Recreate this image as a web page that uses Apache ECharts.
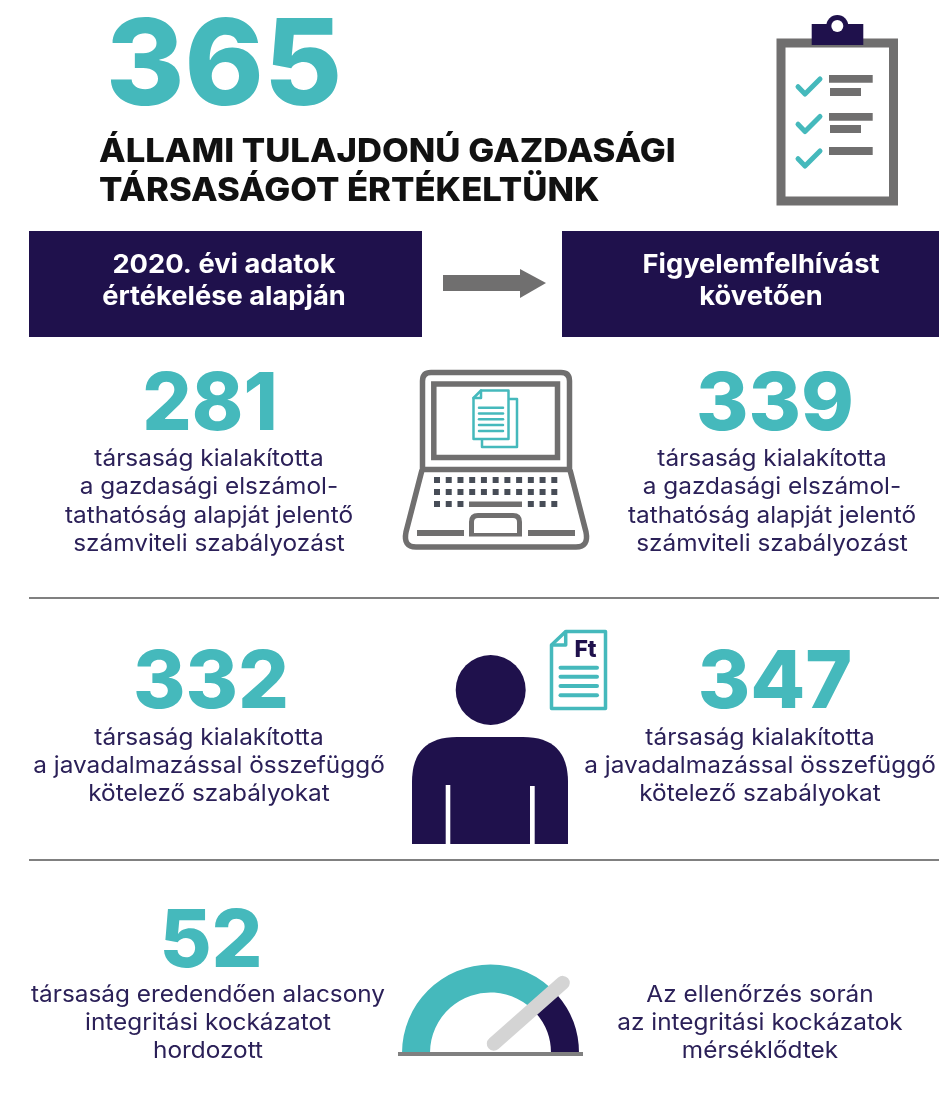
<!DOCTYPE html>
<html>
<head>
<meta charset="utf-8">
<title>365 állami tulajdonú gazdasági társaság</title>
<style>
html, body { margin: 0; padding: 0; background: #fff; }
#chart { width: 939px; height: 1097px; }
</style>
<script src="https://cdn.jsdelivr.net/npm/echarts@6/dist/echarts.min.js"></script>
</head>
<body>
<div id="chart"></div>
<script>
var totalValue = '365';
var titleLines = ['ÁLLAMI TULAJDONÚ GAZDASÁGI', 'TÁRSASÁGOT ÉRTÉKELTÜNK'];
var headerLeft = ['2020. évi adatok', 'értékelése alapján'];
var headerRight = ['Figyelemfelhívást', 'követően'];
var accountingValues = ['281', '339'];
var accountingLines = ['társaság kialakította', 'a gazdasági elszámol-', 'tathatóság alapját jelentő', 'számviteli szabályozást'];
var payValues = ['332', '347'];
var payLines = ['társaság kialakította', 'a javadalmazással összefüggő', 'kötelező szabályokat'];
var riskValue = ['52'];
var riskLines = ['társaság eredendően alacsony', 'integritási kockázatot', 'hordozott'];
var riskNoteLines = ['Az ellenőrzés során', 'az integritási kockázatok', 'mérséklődtek'];
var gaugeValue = 77;

var TEAL = '#45b9bc';
var NAVY = '#1f114c';
var BODY = '#2b2058';
var GREY = '#706f6f';
var FONT = 'Inter';
var BIG = 80;
var SMALL = 23;
var BODY_SCALE = 1.06;

var chart = echarts.init(document.getElementById('chart'));
var items = [];
var shapeCount = 0;

function txt(s, x, y, size, weight, color, align, sx) {
	items.push({
		type: 'text',
		x: x,
		y: y,
		z: 10,
		scaleX: sx || 1,
		style: {
			text: s,
			fontFamily: FONT,
			fontSize: size,
			fontWeight: weight,
			fill: color,
			align: align || 'center',
			verticalAlign: 'middle'
		}
	});
}

function lines(arr, x, y, gap, size, weight, color, sx) {
	arr.forEach(function(s, i) {
		txt(s, x, y + i * gap, size, weight, color, 'center', sx);
	});
}

function rect(x, y, w, h, fill, r, z) {
	items.push({
		type: 'rect',
		z: z || 5,
		shape: { x: x, y: y, width: w, height: h, r: r || 0 },
		style: { fill: fill }
	});
}

function outline(x, y, w, h, color, lw, r) {
	items.push({
		type: 'rect',
		z: 5,
		shape: { x: x, y: y, width: w, height: h, r: r || 0 },
		style: { fill: 'none', stroke: color, lineWidth: lw }
	});
}

function poly(points, color, lw, fill, closed) {
	items.push({
		type: closed ? 'polygon' : 'polyline',
		z: 5,
		shape: { points: points },
		style: { fill: fill || 'none', stroke: lw ? color : 'none', lineWidth: lw, lineCap: 'round', lineJoin: 'round' }
	});
}

function pathEl(d, color, lw, fill) {
	var name = 'icon' + (shapeCount++);
	echarts.graphic.registerShape(name, echarts.graphic.extendPath(d));
	items.push({
		type: name,
		z: 5,
		style: { fill: fill || 'none', stroke: lw ? color : 'none', lineWidth: lw, lineJoin: 'round' }
	});
}

// header
txt(totalValue, 224, 69, 120, 800, TEAL);
txt(titleLines[0], 99, 152, 33, 800, '#111', 'left', 1.05);
txt(titleLines[1], 99, 191, 33, 800, '#111', 'left', 1.05);

// clipboard
outline(781, 43, 112.5, 158, GREY, 9);
items.push({ type: 'circle', z: 5, shape: { cx: 837.3, cy: 26, r: 11 }, style: { fill: NAVY } });
rect(811.7, 24, 51.6, 21, NAVY);
items.push({ type: 'circle', z: 6, shape: { cx: 837.3, cy: 26, r: 6 }, style: { fill: '#fff' } });
[0, 37.5, 72].forEach(function(dy) {
	poly([[798, 86.7 + dy], [805, 94 + dy], [820, 79 + dy]], TEAL, 5);
});
rect(829, 75, 43.7, 7.7, GREY);
rect(830, 88, 31, 8, GREY);
rect(829, 113, 43.7, 7.7, GREY);
rect(830, 125, 31, 8, GREY);
rect(829, 147, 43.7, 8, GREY);

// boxes and arrow
rect(29, 231, 393, 106, NAVY);
rect(562, 231, 377, 106, NAVY);
lines(headerLeft, 224, 265, 32, 26, 700, '#fff', 1.05);
lines(headerRight, 761, 265, 32, 26, 700, '#fff', 1.05);
rect(443, 275, 78, 16, GREY);
poly([[520, 269], [546, 283], [520, 298]], GREY, 0, GREY, true);

// row 1
txt(accountingValues[0], 210, 406, BIG, 800, TEAL, 'center', 0.97);
txt(accountingValues[1], 775, 406, BIG, 800, TEAL);
lines(accountingLines, 209, 459, 28.3, SMALL, 400, BODY, BODY_SCALE);
lines(accountingLines, 772, 459, 28.3, SMALL, 400, BODY, BODY_SCALE);

// laptop
pathEl('M422.5 469.5V381Q422.5 372.5 431 372.5L561 372.5Q569.5 372.5 569.5 381V469.5Z', GREY, 5.5);
outline(433.8, 384, 123.7, 73.5, GREY, 5.5);
pathEl('M422 470L406 532Q403 547 416 547L576 547Q589 547 586 532L570 470', GREY, 5.5);
var keyX = [0, 1, 2, 3, 4, 5, 6, 7, 8, 9, 10];
[0, 1, 2].forEach(function(row) {
	keyX.forEach(function(i) {
		if (row === 2 && i > 2 && i < 8) {
			return;
		}
		rect(434 + i * 11.73, 477 + row * 12, 6, 6, '#474d57');
	});
});
rect(469, 501.5, 53, 5.5, GREY);
pathEl('M471.5 536V522Q471.5 515.5 478 515.5L513 515.5Q519.5 515.5 519.5 522V536', GREY, 5);
rect(417, 530, 47, 6, GREY);
rect(528, 530, 47, 6, GREY);
rect(469, 533, 53, 3.5, GREY);
// document on the laptop screen
poly([[509, 399], [517, 399], [517, 447], [482, 447], [482, 439]], TEAL, 2.5);
poly([[481, 390.5], [508.5, 390.5], [508.5, 439], [473.5, 439], [473.5, 398], [481, 390.5]], TEAL, 2.5, '#fff');
poly([[481, 390.5], [481, 398], [473.5, 398]], TEAL, 2.5);
[407.7, 413.5, 419.3, 425, 431].forEach(function(y) {
	poly([[479, y], [503, y]], TEAL, 2.5);
});

rect(29, 597, 910, 2, '#808080');

// row 2
txt(payValues[0], 211, 684, BIG, 800, TEAL);
txt(payValues[1], 775, 684, BIG, 800, TEAL);
lines(payLines, 209, 738, 28, SMALL, 400, BODY, BODY_SCALE);
lines(payLines, 760, 738, 28, SMALL, 400, BODY, BODY_SCALE);

// person
items.push({ type: 'circle', z: 5, shape: { cx: 490.7, cy: 690, r: 35 }, style: { fill: NAVY } });
pathEl('M412 844V782Q412 737 457 737L523 737Q568 737 568 782V844Z', NAVY, 0, NAVY);
rect(445.7, 785, 4.6, 59, '#fff', 0, 6);
rect(530, 786, 4.7, 58, '#fff', 0, 6);

// Ft document
poly([[565.7, 631.5], [605.5, 631.5], [605.5, 708.5], [551.5, 708.5], [551.5, 645], [565.7, 631.5]], TEAL, 3.5);
poly([[565.7, 632], [565.7, 645], [552, 645]], TEAL, 3.5);
txt('Ft', 585.5, 650, 23, 800, NAVY);
[667.7, 676.8, 686, 695.3].forEach(function(y) {
	poly([[560.5, y], [597, y]], TEAL, 4);
});

rect(29, 859, 910, 2, '#808080');

// row 3
txt(riskValue[0], 211, 943, BIG, 800, TEAL);
lines(riskLines, 208, 995, 28, SMALL, 400, BODY, BODY_SCALE);
lines(riskNoteLines, 760, 995, 28, SMALL, 400, BODY, BODY_SCALE);
rect(398, 1052, 185, 4, '#808080');

var option = {
	backgroundColor: '#fff',
	animation: false,
	graphic: { elements: items },
	series: [{
		type: 'gauge',
		center: [490.5, 1053],
		radius: 88.5,
		startAngle: 180,
		endAngle: 0,
		min: 0,
		max: 100,
		silent: true,
		axisLine: {
			lineStyle: {
				width: 28,
				color: [[gaugeValue / 100, TEAL], [1, NAVY]]
			}
		},
		axisTick: { show: false },
		splitLine: { show: false },
		axisLabel: { show: false },
		title: { show: false },
		detail: { show: false },
		pointer: {
			icon: 'path://M7 0A7 7 0 0 1 14 7V99A7 7 0 0 1 0 99V7A7 7 0 0 1 7 0Z',
			length: 106,
			width: 14,
			offsetCenter: [-4.8, -1.6],
			keepAspect: false,
			itemStyle: { color: '#d4d4d4' }
		},
		data: [{ value: gaugeValue }]
	}]
};
chart.setOption(option);
</script>
</body>
</html>
